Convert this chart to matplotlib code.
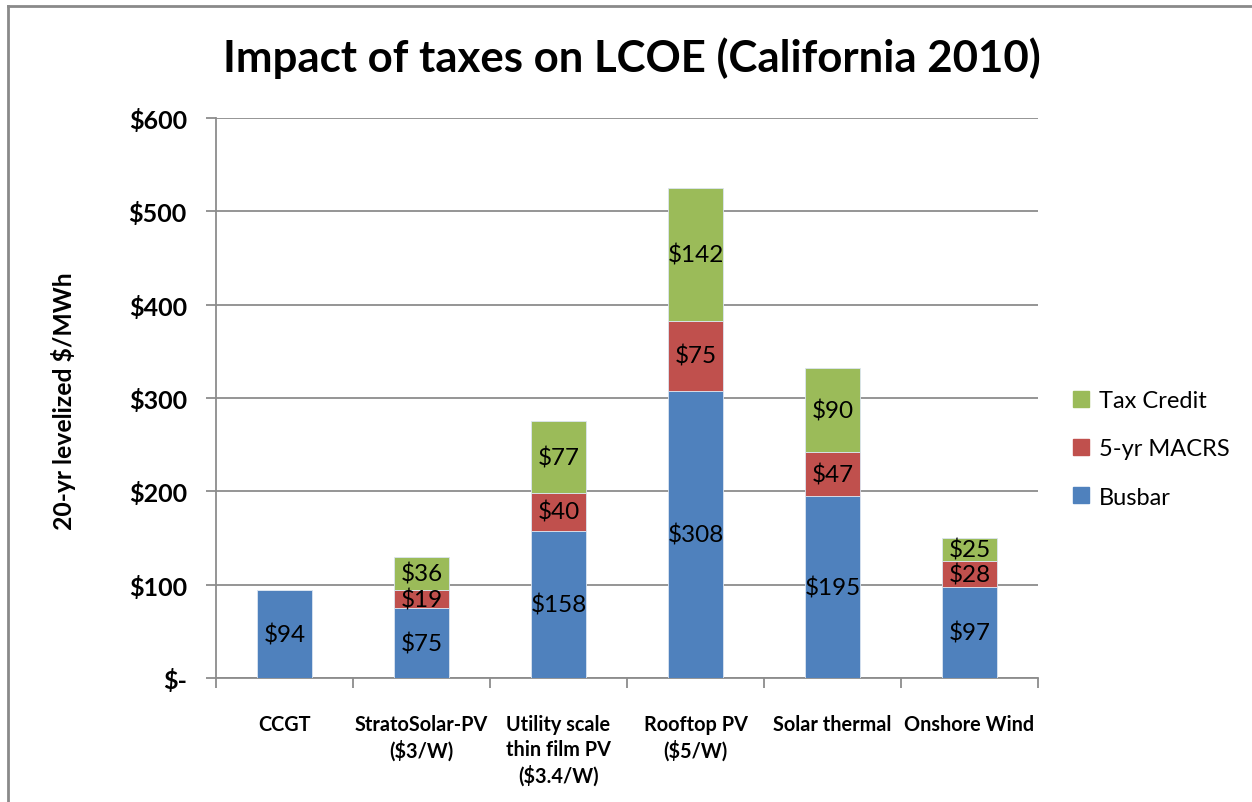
import matplotlib
matplotlib.use("Agg")
import matplotlib.pyplot as plt
from matplotlib.lines import Line2D
import numpy as np

categories = ["CCGT", "StratoSolar-PV\n($3/W)", "Utility scale\nthin film PV\n($3.4/W)",
              "Rooftop PV\n($5/W)", "Solar thermal", "Onshore Wind"]
busbar = [94, 75, 158, 308, 195, 97]
macrs = [0, 19, 40, 75, 47, 28]
tax_credit = [0, 36, 77, 142, 90, 25]
y_ticks = [0, 100, 200, 300, 400, 500, 600]
y_tick_labels = ["$-", "$100", "$200", "$300", "$400", "$500", "$600"]

c_busbar = "#4f81bd"
c_macrs = "#c0504d"
c_tax = "#9bbb59"
grid_c = "#8c8c8c"

plt.rcParams["font.family"] = ["Lato", "DejaVu Sans"]

fig = plt.figure(figsize=(12.52, 8.03), dpi=100)
ax = fig.add_axes([216 / 1252, 1 - 679 / 803, 822 / 1252, 560 / 803])

x = np.arange(len(categories))
w = 0.4
bottoms = np.zeros(len(categories))
for vals, col in [(busbar, c_busbar), (macrs, c_macrs), (tax_credit, c_tax)]:
    vals = np.array(vals, dtype=float)
    ax.bar(x, vals, w, bottom=bottoms, color=col, edgecolor="#dbe5f1",
           linewidth=0.6, zorder=3)
    for xi, b, v in zip(x, bottoms, vals):
        if v > 0:
            ax.text(xi, b + v / 2, f"${int(v)}", ha="center", va="center",
                    fontsize=17.5, color="black", zorder=4)
    bottoms += vals

ax.set_xlim(-0.5, len(categories) - 0.5)
ax.set_ylim(0, 600)
ax.set_yticks(y_ticks)
ax.set_yticklabels(y_tick_labels, fontsize=18, fontweight="bold")
ax.yaxis.grid(True, color=grid_c, linewidth=1.3, zorder=0)
ax.set_axisbelow(True)

ax.set_xticks(x)
ax.set_xticklabels(categories, fontsize=14.3, fontweight="bold", linespacing=1.3)
ax.tick_params(axis="x", length=0, pad=26)
ax.set_xticks(np.arange(-0.5, len(categories)), minor=True)
ax.tick_params(axis="x", which="minor", length=7, color=grid_c, width=1.3)
ax.tick_params(axis="y", length=7, color=grid_c, width=1.3, pad=14)

for s in ["top", "right"]:
    ax.spines[s].set_visible(False)
for s in ["left", "bottom"]:
    ax.spines[s].set_color(grid_c)
    ax.spines[s].set_linewidth(1.3)

fig.text(63 / 1252, 1 - 401 / 803, "20-yr levelized $/MWh", rotation=90,
         ha="center", va="center", fontsize=17.8, fontweight="bold")

fig.text(632 / 1252, 1 - 58 / 803, "Impact of taxes on LCOE (California 2010)",
         ha="center", va="center", fontsize=31.5, fontweight="bold")

handles = [Line2D([], [], marker="s", linestyle="none", markersize=12, color=c)
           for c in (c_tax, c_macrs, c_busbar)]
fig.legend(handles, ["Tax Credit", "5-yr MACRS", "Busbar"],
           loc="center left", bbox_to_anchor=(1048 / 1252, 1 - 450 / 803),
           frameon=False, fontsize=17, labelspacing=1.15, handletextpad=0.25,
           handlelength=1.0)

# outer frame lines (left and top)
fig.add_artist(Line2D([8 / 1252, 8 / 1252], [0, 1 - 6.5 / 803], color="#8a8a8a",
                      linewidth=2, transform=fig.transFigure))
fig.add_artist(Line2D([8 / 1252, 1], [1 - 6.5 / 803, 1 - 6.5 / 803], color="#8a8a8a",
                      linewidth=2, transform=fig.transFigure))

fig.savefig("out.png", dpi=100, facecolor="white")
